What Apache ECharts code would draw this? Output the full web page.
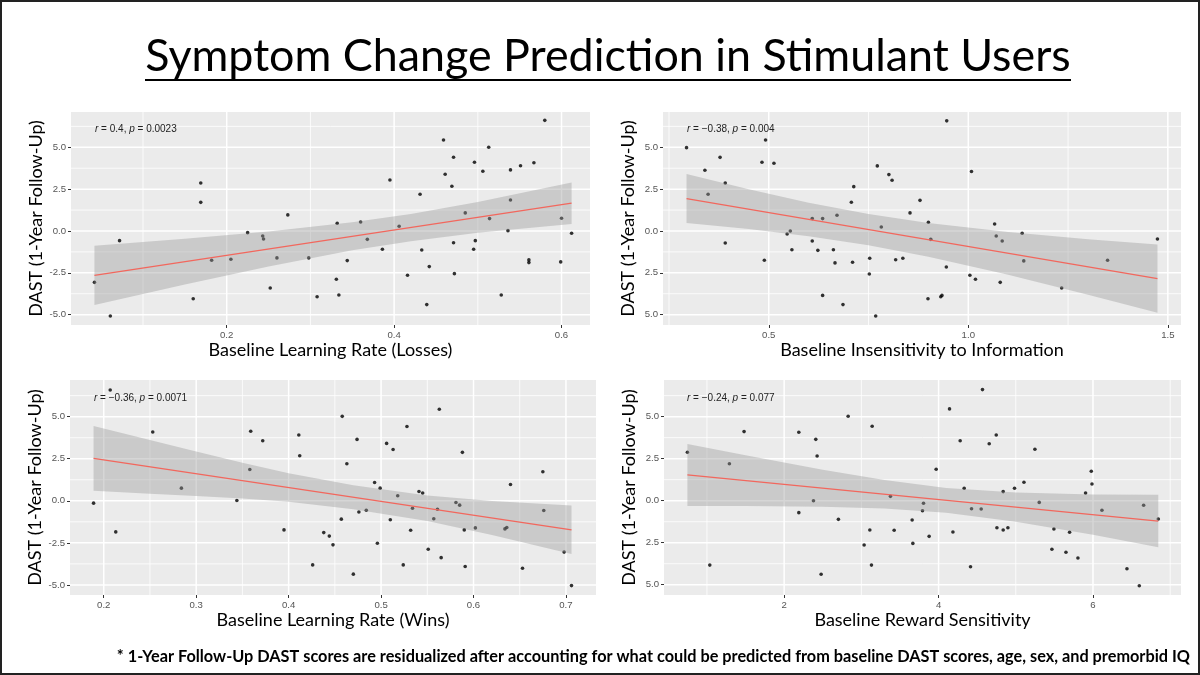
<!DOCTYPE html>
<html><head><meta charset="utf-8">
<script src="https://cdn.jsdelivr.net/npm/echarts@6/dist/echarts.min.js"></script>
<style>html,body{margin:0;padding:0;background:#fff}#c{width:1200px;height:675px}</style>
</head><body><div id="c"></div>
<script>
// ---------- DATA ----------
const mainTitle = 'Symptom Change Prediction in Stimulant Users';
const footnote = '* 1-Year Follow-Up DAST scores are residualized after accounting for what could be predicted from baseline DAST scores, age, sex, and premorbid IQ';
const yTitle = 'DAST (1-Year Follow-Up)';
const xTitles = ['Baseline Learning Rate (Losses)', 'Baseline Insensitivity to Information', 'Baseline Learning Rate (Wins)', 'Baseline Reward Sensitivity'];
const statR = ['0.4', '\u22120.38', '\u22120.36', '\u22120.24'];
const statP = ['0.0023', '0.004', '0.0071', '0.077'];

// Panel 1: Learning Rate (Losses)
const p1X = [0.042,0.061,0.072,0.160,0.169,0.169,0.182,0.205,0.225,0.243,0.244,0.252,0.260,0.273,0.298,0.308,0.332,0.331,0.334,0.344,0.360,0.368,0.386,0.395,0.406,0.416,0.431,0.433,0.439,0.442,0.459,0.461,0.469,0.471,0.471,0.472,0.485,0.496,0.497,0.495,0.506,0.513,0.514,0.528,0.536,0.539,0.539,0.551,0.561,0.561,0.567,0.580,0.599,0.600,0.612];
const p1Y = [-3.07,-5.08,-0.58,-4.05,2.87,1.71,-1.75,-1.69,-0.10,-0.30,-0.48,-3.41,-1.61,0.96,-1.61,-3.93,0.46,-2.89,-3.83,-1.77,0.54,-0.50,-1.09,3.05,0.28,-2.65,2.19,-1.14,-4.40,-2.13,5.44,3.39,2.67,4.41,-0.70,-2.55,1.08,4.11,-0.58,-1.09,3.57,5.00,0.74,-3.83,0.02,3.65,1.85,3.90,-1.73,-1.89,4.08,6.61,-1.85,0.76,-0.14];
const p1LineX = [0.042, 0.612];
const p1LineY = [-2.65, 1.66];
const p1BandX  = [0.042, 0.15, 0.25, 0.35, 0.42, 0.50, 0.612];
const p1BandHi = [-0.88, -0.47, -0.03, 0.52, 1.02, 1.73, 2.89];
const p1BandLo = [-4.42, -3.20, -2.13, -1.16, -0.61, -0.11, 0.42];
const p1XTicks = [0.2, 0.4, 0.6];
const p1XLabels = ['0.2', '0.4', '0.6'];
const p1XMinor = [0.1, 0.3, 0.5];

// Panel 2: Insensitivity to Information
const p2X = [0.294,0.340,0.348,0.378,0.391,0.391,0.483,0.489,0.492,0.513,0.546,0.554,0.558,0.609,0.609,0.623,0.635,0.635,0.662,0.666,0.671,0.686,0.707,0.710,0.713,0.752,0.753,0.768,0.772,0.782,0.801,0.809,0.818,0.836,0.854,0.879,0.899,0.900,0.906,0.931,0.934,0.945,0.946,1.004,1.008,1.018,1.066,1.070,1.080,1.085,1.135,1.139,1.234,1.349,1.474];
const p2Y = [4.98,3.63,2.19,4.40,2.87,-0.72,4.11,-1.75,5.44,4.05,-0.18,0.00,-1.12,0.74,-0.60,-1.16,0.74,-3.85,-1.12,-1.91,0.94,-4.40,1.72,-1.87,2.65,-2.57,-1.63,-5.08,3.89,0.24,3.37,3.03,-1.72,-1.63,1.08,1.83,-4.05,0.52,-0.50,-3.93,-3.85,-2.15,6.58,-2.65,3.55,-2.89,0.42,-0.30,-3.07,-0.60,-0.14,-1.79,-3.41,-1.75,-0.48];
const p2LineX = [0.294, 1.474];
const p2LineY = [1.93, -2.85];
const p2BandX  = [0.294, 0.45, 0.60, 0.75, 0.90, 1.10, 1.30, 1.474];
const p2BandHi = [3.40, 2.49, 1.69, 1.01, 0.48, -0.06, -0.49, -0.81];
const p2BandLo = [0.47, 0.11, -0.31, -0.85, -1.54, -2.62, -3.81, -4.89];
const p2XTicks = [0.5, 1.0, 1.5];
const p2XLabels = ['0.5', '1.0', '1.5'];
const p2XMinor = [0.25, 0.75, 1.25];

// Panel 3: Learning Rate (Wins)
const p3X = [0.189,0.207,0.213,0.253,0.284,0.344,0.358,0.359,0.372,0.395,0.411,0.412,0.426,0.438,0.444,0.448,0.457,0.458,0.463,0.470,0.474,0.476,0.484,0.493,0.496,0.499,0.506,0.510,0.513,0.518,0.524,0.528,0.532,0.534,0.541,0.545,0.551,0.557,0.561,0.563,0.565,0.581,0.585,0.588,0.590,0.591,0.602,0.634,0.636,0.640,0.653,0.675,0.676,0.698,0.706];
const p3Y = [-0.14,6.59,-1.85,4.09,0.75,0.02,1.86,4.13,3.57,-1.73,3.91,2.68,-3.81,-1.89,-2.10,-2.62,-1.09,5.02,2.20,-4.36,3.65,-0.67,-0.56,1.09,-2.52,0.75,3.41,-1.13,3.05,0.30,-3.81,4.42,-1.75,-0.44,0.55,0.46,-2.88,-1.07,-0.50,5.44,-3.38,-0.10,-0.26,2.88,-1.73,-3.91,-1.61,-1.67,-1.59,0.97,-4.01,1.73,-0.58,-3.05,-5.04];
const p3LineX = [0.189, 0.706];
const p3LineY = [2.52, -1.73];
const p3BandX  = [0.189, 0.25, 0.30, 0.35, 0.40, 0.47, 0.55, 0.62, 0.706];
const p3BandHi = [4.45, 3.62, 2.93, 2.26, 1.63, 0.92, 0.32, -0.01, -0.28];
const p3BandLo = [0.59, 0.42, 0.29, 0.14, -0.05, -0.50, -1.20, -2.03, -3.17];
const p3XTicks = [0.2, 0.3, 0.4, 0.5, 0.6, 0.7];
const p3XLabels = ['0.2', '0.3', '0.4', '0.5', '0.6', '0.7'];
const p3XMinor = [0.25, 0.35, 0.45, 0.55, 0.65];

// Panel 4: Reward Sensitivity
const p4X = [0.747,1.037,1.291,1.481,2.190,2.190,2.380,2.410,2.427,2.479,2.703,2.829,3.036,3.110,3.131,3.140,3.377,3.425,3.658,3.667,3.792,3.805,3.878,3.969,4.142,4.186,4.280,4.332,4.414,4.427,4.552,4.569,4.656,4.747,4.756,4.837,4.837,4.898,4.984,5.106,5.248,5.304,5.468,5.494,5.650,5.697,5.805,5.904,5.978,5.987,6.116,6.440,6.600,6.656,6.846];
const p4Y = [2.88,-3.83,2.20,4.11,4.07,-0.71,0.00,3.65,2.66,-4.38,-1.11,5.02,-2.64,-1.74,-3.83,4.43,0.26,-1.76,-1.15,-2.54,-0.60,-0.15,-2.12,1.87,5.46,-1.86,3.57,0.74,-3.93,-0.48,-0.49,6.61,3.39,3.91,-1.61,0.54,-1.74,-1.61,0.74,1.10,3.06,-0.10,-2.89,-1.68,-3.07,-1.88,-3.41,0.46,1.75,0.99,-0.57,-4.05,-5.06,-0.27,-1.09];
const p4LineX = [0.747, 6.846];
const p4LineY = [1.53, -1.21];
const p4BandX  = [0.747, 1.5, 2.5, 3.3, 4.1, 5.0, 6.0, 6.846];
const p4BandHi = [3.37, 2.70, 1.84, 1.23, 0.76, 0.49, 0.37, 0.36];
const p4BandLo = [-0.31, -0.32, -0.36, -0.47, -0.72, -1.25, -2.03, -2.77];
const p4XTicks = [2, 4, 6];
const p4XLabels = ['2', '4', '6'];
const p4XMinor = [1, 3, 5, 7];

// Y ticks (shared)
const yTicks = [-5, -2.5, 0, 2.5, 5];
const yLabelsSigned = ['-5.0', '-2.5', '0.0', '2.5', '5.0'];
const yLabelsPlain = ['5.0', '2.5', '0.0', '2.5', '5.0'];
const yMinor = [-3.75, -1.25, 1.25, 3.75, 6.25];

// ---------- LAYOUT ----------
const panels = [
  {x:p1X, y:p1Y, lx:p1LineX, ly:p1LineY, bx:p1BandX, bh:p1BandHi, bl:p1BandLo, xt:p1XTicks, xl:p1XLabels, xm:p1XMinor, yl:yLabelsSigned,
   grid:{left:71, top:112, width:519, height:213}, xr:[0.014, 0.634], yr:[-5.62, 7.11], statPos:[95, 124]},
  {x:p2X, y:p2Y, lx:p2LineX, ly:p2LineY, bx:p2BandX, bh:p2BandHi, bl:p2BandLo, xt:p2XTicks, xl:p2XLabels, xm:p2XMinor, yl:yLabelsPlain,
   grid:{left:663, top:112, width:518, height:213}, xr:[0.235, 1.533], yr:[-5.62, 7.11], statPos:[687, 124]},
  {x:p3X, y:p3Y, lx:p3LineX, ly:p3LineY, bx:p3BandX, bh:p3BandHi, bl:p3BandLo, xt:p3XTicks, xl:p3XLabels, xm:p3XMinor, yl:yLabelsSigned,
   grid:{left:70, top:380, width:526, height:215}, xr:[0.1635, 0.7325], yr:[-5.6, 7.18], statPos:[94, 393]},
  {x:p4X, y:p4Y, lx:p4LineX, ly:p4LineY, bx:p4BandX, bh:p4BandHi, bl:p4BandLo, xt:p4XTicks, xl:p4XLabels, xm:p4XMinor, yl:yLabelsPlain,
   grid:{left:664, top:380, width:517, height:215}, xr:[0.444, 7.14], yr:[-5.61, 7.18], statPos:[687, 393]}
];

const SANS = 'Liberation Sans, Arial, sans-serif';
const TITLEFONT = 'Lato, Noto Sans, sans-serif';
function lookup(ticks, labels) {
  return function (v) {
    for (let i = 0; i < ticks.length; i++) if (Math.abs(ticks[i] - v) < 1e-6) return labels[i];
    return '';
  };
}

// panel background + ggplot-style grid, drawn through the axes' scales
function panelRenderer(p) {
  return function (params, api) {
    const cs = params.coordSys;
    const children = [{type:'rect', shape:{x:cs.x, y:cs.y, width:cs.width, height:cs.height}, style:{fill:'#EBEBEB'}}];
    const vline = (v, w) => {
      const a = api.coord([v, p.yr[0]]), b = api.coord([v, p.yr[1]]);
      children.push({type:'line', shape:{x1:a[0], y1:a[1], x2:b[0], y2:b[1]}, style:{stroke:'#fff', lineWidth:w}});
    };
    const hline = (v, w) => {
      const a = api.coord([p.xr[0], v]), b = api.coord([p.xr[1], v]);
      children.push({type:'line', shape:{x1:a[0], y1:a[1], x2:b[0], y2:b[1]}, style:{stroke:'#fff', lineWidth:w}});
    };
    p.xm.forEach(v => vline(v, 0.8));
    yMinor.forEach(v => hline(v, 0.8));
    p.xt.forEach(v => vline(v, 1.5));
    yTicks.forEach(v => hline(v, 1.5));
    return {type:'group', children:children};
  };
}

const grids = [], xAxes = [], yAxes = [], series = [], titles = [];
panels.forEach((p, i) => {
  grids.push(Object.assign({show:false}, p.grid));
  xAxes.push({type:'value', gridIndex:i, min:p.xr[0], max:p.xr[1], position:'bottom', z:1,
    name:xTitles[i], nameLocation:'middle', nameGap:16,
    nameTextStyle:{fontSize:18, fontFamily:TITLEFONT, color:'#000'},
    axisLine:{show:false, onZero:false},
    axisTick:{show:true, length:3, customValues:p.xt, lineStyle:{color:'#333', width:1}},
    axisLabel:{customValues:p.xt, formatter:lookup(p.xt, p.xl), margin:5, fontSize:9.6, fontFamily:SANS, color:'#555'},
    splitLine:{show:false}
  });
  yAxes.push({type:'value', gridIndex:i, min:p.yr[0], max:p.yr[1], position:'left', z:1,
    name:yTitle, nameLocation:'middle', nameGap:26,
    nameTextStyle:{fontSize:18, fontFamily:TITLEFONT, color:'#000'},
    axisLine:{show:false, onZero:false},
    axisTick:{show:true, length:3, customValues:yTicks, lineStyle:{color:'#333', width:1}},
    axisLabel:{customValues:yTicks, formatter:lookup(yTicks, p.yl), margin:5, fontSize:9.6, fontFamily:SANS, color:'#555'},
    splitLine:{show:false}
  });
  series.push({type:'custom', xAxisIndex:i, yAxisIndex:i, silent:true, z:0, clip:false,
    data:[[p.xt[0], yTicks[2]]], renderItem:panelRenderer(p)});
  series.push({type:'scatter', xAxisIndex:i, yAxisIndex:i, symbolSize:3.6, silent:true,
    itemStyle:{color:'#000'}, data:p.x.map((v, k) => [v, p.y[k]]), z:3});
  series.push({type:'custom', xAxisIndex:i, yAxisIndex:i, silent:true, z:4,
    data:[[p.bx[0], p.bl[0]]],
    renderItem:(function (pp) { return function (params, api) {
      const pts = [];
      for (let k = 0; k < pp.bx.length; k++) pts.push(api.coord([pp.bx[k], pp.bh[k]]));
      for (let k = pp.bx.length - 1; k >= 0; k--) pts.push(api.coord([pp.bx[k], pp.bl[k]]));
      return {type:'polygon', shape:{points:pts}, style:{fill:'rgba(153,153,153,0.4)'}};
    }; })(p)
  });
  series.push({type:'line', xAxisIndex:i, yAxisIndex:i, silent:true, z:5, symbol:'none',
    lineStyle:{color:'#F2675D', width:1.3}, data:p.lx.map((v, k) => [v, p.ly[k]])});
  titles.push({text:'{i|r} = ' + statR[i] + ', {i|p} = ' + statP[i], left:p.statPos[0], top:p.statPos[1], padding:0, z:6,
    textStyle:{fontSize:10, fontWeight:'normal', fontFamily:SANS, color:'#222',
      rich:{i:{fontStyle:'italic', fontSize:10, fontFamily:SANS, color:'#222'}}}});
});

const chart = echarts.init(document.getElementById('c'), null, {renderer:'canvas'});
chart.setOption({
  animation:false,
  backgroundColor:'#fff',
  title:titles,
  grid:grids, xAxis:xAxes, yAxis:yAxes, series:series,
  graphic:[
    {type:'rect', shape:{x:1, y:1, width:1198, height:673}, style:{fill:'transparent', stroke:'#222', lineWidth:2}, silent:true},
    {type:'text', x:608, y:57, style:{text:mainTitle, fontSize:44.8, fontFamily:TITLEFONT, align:'center', verticalAlign:'middle', fill:'#000'}, silent:true},
    {type:'line', shape:{x1:145, y1:80, x2:1071, y2:80}, style:{stroke:'#000', lineWidth:2}, silent:true},
    {type:'text', x:1190, y:657, style:{text:footnote, fontSize:16.3, fontWeight:'bold', fontFamily:TITLEFONT, align:'right', verticalAlign:'middle', fill:'#000'}, silent:true}
  ]
});
</script>
</body></html>
